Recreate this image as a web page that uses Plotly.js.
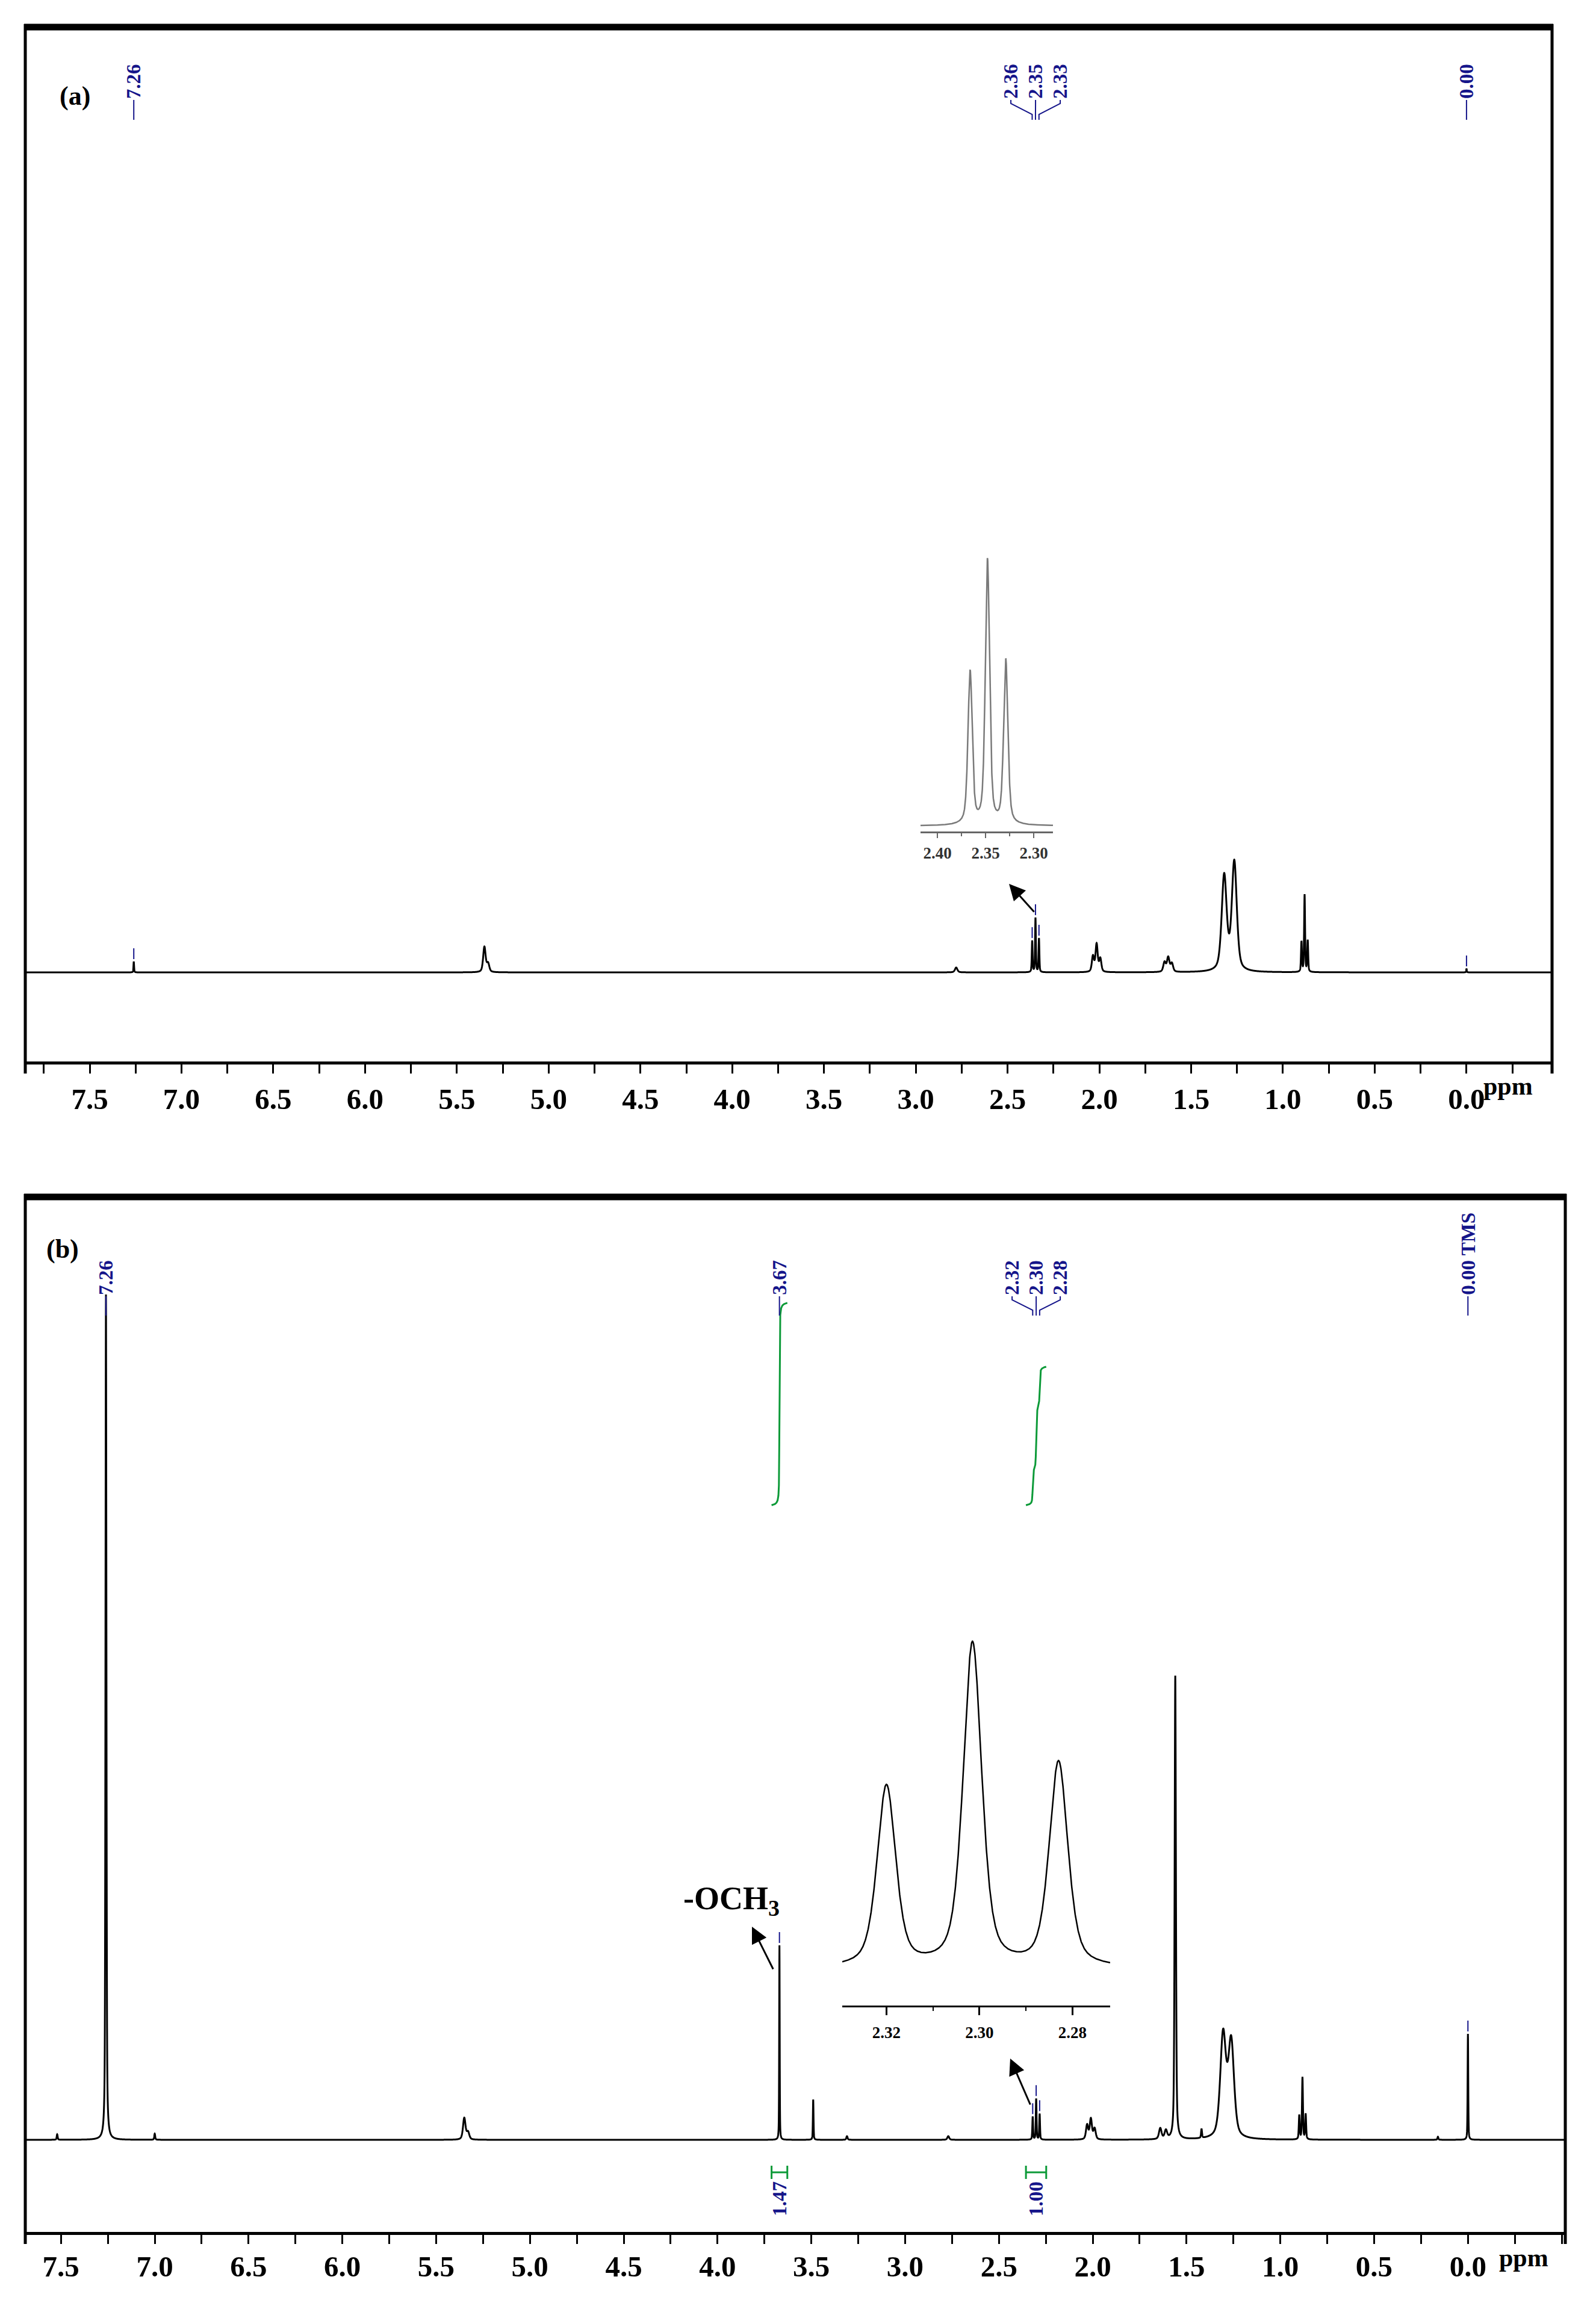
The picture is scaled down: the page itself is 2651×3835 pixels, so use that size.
<!DOCTYPE html>
<html><head><meta charset="utf-8">
<script src="https://cdn.plot.ly/plotly-3.0.1.min.js"></script>
<style>html,body{margin:0;padding:0;background:#fff}</style>
</head><body>
<div id="chart" style="width:2651px;height:3835px"></div>
<script>
// ================= DATA =================
// Spectrum (a): peak positions (ppm), heights (baseline units), half-widths (ppm)
const specA_ppm    = [7.26, 5.35, 5.33, 2.78, 2.366, 2.348, 2.329, 2.035, 2.015, 1.995, 1.645, 1.625, 1.605, 1.32,  1.265, 0.899, 0.882, 0.865, 0.00];
const specA_height = [18,   42,   14,   8,    52,    90,    56,    26,    46,    22,    16,    24,    14,    158,   181,   50,    128,   52,    6];
const specA_hwhm   = [0.002,0.008,0.008,0.008,0.0026,0.0026,0.0026,0.007, 0.007, 0.007, 0.008, 0.008, 0.008, 0.016, 0.016, 0.003, 0.003, 0.003, 0.002];

// Spectrum (b)
const specB_ppm    = [7.52, 7.26, 7.00, 5.35, 5.33, 3.67,  3.49,  3.31, 2.77, 2.320,  2.3015, 2.283,  2.03, 2.01, 1.99, 1.64, 1.61, 1.56,  1.42,  1.305, 1.262, 0.899, 0.882, 0.865, 0.16,  0.00];
const specB_height = [9,    1404, 10,   36,   12,   323,   67,    6,    6,    38,     68,     43,     24,   34,   18,   18,   14,   770,   15,    171,   159,   40,    103,   42,    5,     176];
const specB_hwhm   = [0.003,0.003,0.003,0.008,0.008,0.0016,0.002, 0.004,0.006,0.00236,0.00236,0.00236,0.007,0.007,0.007,0.008,0.008,0.004, 0.003, 0.018, 0.018, 0.003, 0.003, 0.003, 0.003, 0.002];

// Axis tick values (ppm)
const xTickVals = [7.5, 7.0, 6.5, 6.0, 5.5, 5.0, 4.5, 4.0, 3.5, 3.0, 2.5, 2.0, 1.5, 1.0, 0.5, 0.0];
const insetA_ticks = [2.40, 2.35, 2.30];
const insetB_ticks = [2.32, 2.30, 2.28];

// Picked-peak labels
const pickA_ppm  = [7.26, 2.366, 2.348, 2.329, 0.00];
const pickA_text = ["7.26", "2.36", "2.35", "2.33", "0.00"];
const pickB_ppm  = [7.26, 3.67, 2.320, 2.3015, 2.283, 0.00];
const pickB_text = ["7.26", "3.67", "2.32", "2.30", "2.28", "0.00 TMS"];

// Integrals (b)
const integ_hi    = [3.712, 2.356];
const integ_lo    = [3.628, 2.248];
const integ_label = ["1.47", "1.00"];

// Texts
const panelLabels = ["(a)", "(b)"];
const axisUnit = "ppm";
const groupLabel = "-OCH<sub>3</sub>";

// ================= HELPERS =================
const W = 2651, H = 3835;
const ETA = 0.5;
function shape1(x, p, h, g) { const d = (x - p) / g; return h * (ETA / (1 + d * d) + (1 - ETA) * Math.exp(-Math.LN2 * d * d)); }
function specVal(x, P, Hh, G) { let s = 0; for (let i = 0; i < P.length; i++) s += shape1(x, P[i], Hh[i], G[i]); return s; }
function grid(from, to, step, extra) {
  const n = Math.round((from - to) / step);
  const xs = [];
  for (let i = 0; i <= n; i++) xs.push(+(from - i * step).toFixed(6));
  extra.forEach(e => { if (e <= from && e >= to) xs.push(e); });
  xs.sort((a, b) => b - a);
  return xs;
}
const py = p => 1 - p / H;
const pxx = p => p / W;

// Panel geometry (pixels)
const PA = { x0: 42, x1: 2578, yTop: 45, yBot: 1763, base: 1615, r0: 7.851, r1: -0.466 };
const PB = { x0: 42, x1: 2600, yTop: 1988, yBot: 3707, base: 3554, r0: 7.690, r1: -0.519 };

const xsA = grid(7.9, -0.55, 0.0005, specA_ppm);
const ysA = xsA.map(x => specVal(x, specA_ppm, specA_height, specA_hwhm));
const xsB = grid(7.9, -0.55, 0.0005, specB_ppm);
const ysB = xsB.map(x => specVal(x, specB_ppm, specB_height, specB_hwhm));

// insets
const insA = { x0: 1529, x1: 1749, axis: 1381, base: 1372, top: 900, peakPx: 445, r0: 2.4175, r1: 2.28 };
const insB = { x0: 1399, x1: 1844, axis: 3331, base: 3270, top: 2700, peakPx: 544, r0: 2.3295, r1: 2.2719 };
const ixA = grid(insA.r0, insA.r1, 0.0001, specA_ppm);
const iyA = ixA.map(x => specVal(x, specA_ppm, specA_height, specA_hwhm));
const ixB = grid(insB.r0, insB.r1, 0.00005, specB_ppm);
const iyB = ixB.map(x => specVal(x, specB_ppm, specB_height, specB_hwhm));
const sA = insA.peakPx / Math.max(...iyA);
const sB = insB.peakPx / Math.max(...iyB);

// integrals
function cumInt(hi, lo) {
  const xs = grid(hi, lo, 0.0001, []);
  const X = [], C = [];
  let c = 0, prev = 0;
  for (let i = 0; i < xs.length; i++) {
    const v = specVal(xs[i], specB_ppm, specB_height, specB_hwhm);
    if (i > 0) c += (v + prev) / 2 * (xs[i - 1] - xs[i]);
    prev = v; X.push(xs[i]); C.push(c);
  }
  return { X, C };
}
const ints = integ_hi.map((h, i) => cumInt(h, integ_lo[i]));
const refInt = ints[1].C[ints[1].C.length - 1];
const intScale = 230 / refInt;
const intBase = PB.base - 2500; // units above baseline (1 unit = 1 px)

const BLUE = '#15158a', GREEN = '#0c9a38';
const serif = 'Liberation Serif, "Times New Roman", serif';

const traces = [
  { x: xsA, y: ysA, xaxis: 'x', yaxis: 'y', mode: 'lines', line: { color: '#000', width: 3, simplify: false }, hoverinfo: 'skip' },
  { x: xsB, y: ysB, xaxis: 'x2', yaxis: 'y2', mode: 'lines', line: { color: '#000', width: 3, simplify: false }, hoverinfo: 'skip' },
  { x: ixA, y: iyA, xaxis: 'x3', yaxis: 'y3', mode: 'lines', line: { color: '#7a7a7a', width: 2.5 }, hoverinfo: 'skip' },
  { x: ixB, y: iyB, xaxis: 'x4', yaxis: 'y4', mode: 'lines', line: { color: '#000', width: 2.5 }, hoverinfo: 'skip' }
];
ints.forEach(o => traces.push({ x: o.X, y: o.C.map(c => intBase + c * intScale), xaxis: 'x2', yaxis: 'y2', mode: 'lines', line: { color: GREEN, width: 3 }, hoverinfo: 'skip' }));

const shapes = [];
const annotations = [];
const fontLab = { family: serif, size: 33, color: BLUE, weight: 700 };

// frames
[PA, PB].forEach(P => {
  shapes.push({ type: 'line', xref: 'paper', yref: 'paper', x0: pxx(P.x0), x1: pxx(P.x0), y0: py(P.yTop - 5), y1: py(P.yBot + 20), line: { color: '#000', width: 5 } });
  shapes.push({ type: 'line', xref: 'paper', yref: 'paper', x0: pxx(P.x1), x1: pxx(P.x1), y0: py(P.yTop - 5), y1: py(P.yBot + 20), line: { color: '#000', width: 5 } });
  shapes.push({ type: 'line', xref: 'paper', yref: 'paper', x0: pxx(P.x0 - 2), x1: pxx(P.x1 + 2), y0: py(P.yTop), y1: py(P.yTop), line: { color: '#000', width: 11 } });
});

function picks(P, ppm, txt, xa, ya, P_, Hh, G, labelBottom, connTop, connBot, spacing) {
  const pxPer = (P.x1 - P.x0) / (P.r0 - P.r1);
  const groups = []; let cur = [0];
  for (let i = 1; i < ppm.length; i++) {
    if (Math.abs(ppm[i] - ppm[i - 1]) * pxPer < 30) cur.push(i); else { groups.push(cur); cur = [i]; }
  }
  groups.push(cur);
  groups.forEach(g => {
    const center = g.reduce((s, i) => s + ppm[i], 0) / g.length;
    g.forEach((i, k) => {
      const off = (k - (g.length - 1) / 2) * spacing;
      const lx = g.length === 1 ? ppm[i] : center - off / pxPer;
      annotations.push({ xref: xa, yref: 'paper', x: lx, y: py(labelBottom), text: txt[i], textangle: -90, showarrow: false, xanchor: 'center', yanchor: 'bottom', font: fontLab, borderpad: 0 });
      if (g.length === 1) {
        shapes.push({ type: 'line', xref: xa, yref: 'paper', x0: lx, x1: lx, y0: py(connTop), y1: py(connBot), line: { color: BLUE, width: 2 } });
      } else {
        shapes.push({ type: 'path', xref: xa, yref: 'paper', path: `M${lx},${py(connTop)} L${lx},${py(connTop + 6)} L${ppm[i]},${py(connBot - 9)} L${ppm[i]},${py(connBot)}`, line: { color: BLUE, width: 2 } });
      }
      const v = specVal(ppm[i], P_, Hh, G);
      if (P.base - (v + 26) > connBot + 4) {
        shapes.push({ type: 'line', xref: xa, yref: ya, x0: ppm[i], x1: ppm[i], y0: v + 4, y1: v + 22, line: { color: BLUE, width: 2 } });
      }
    });
  });
}
picks(PA, pickA_ppm, pickA_text, 'x', 'y', specA_ppm, specA_height, specA_hwhm, 165, 166, 199, 41);
picks(PB, pickB_ppm, pickB_text, 'x2', 'y2', specB_ppm, specB_height, specB_hwhm, 2152, 2153, 2185, 40);

// integral bars and values
integ_hi.forEach((hi, i) => {
  const lo = integ_lo[i];
  const yb = 3608;
  shapes.push({ type: 'line', xref: 'x2', yref: 'paper', x0: hi, x1: lo, y0: py(yb), y1: py(yb), line: { color: GREEN, width: 3 } });
  [hi, lo].forEach(e => shapes.push({ type: 'line', xref: 'x2', yref: 'paper', x0: e, x1: e, y0: py(yb - 11), y1: py(yb + 11), line: { color: GREEN, width: 3 } }));
  annotations.push({ xref: 'x2', yref: 'paper', x: (hi + lo) / 2, y: py(3622), text: integ_label[i], textangle: -90, showarrow: false, xanchor: 'center', yanchor: 'top', font: fontLab, borderpad: 0 });
});

// panel labels, unit labels, group label
const blackBold = s => ({ family: serif, size: s, color: '#000', weight: 700 });
annotations.push({ xref: 'paper', yref: 'paper', x: pxx(124), y: py(160), xanchor: 'center', yanchor: 'middle', text: panelLabels[0], showarrow: false, font: blackBold(44) });
annotations.push({ xref: 'paper', yref: 'paper', x: pxx(104), y: py(2074), xanchor: 'center', yanchor: 'middle', text: panelLabels[1], showarrow: false, font: blackBold(44) });
annotations.push({ xref: 'paper', yref: 'paper', x: pxx(2505), y: py(1804), xanchor: 'center', yanchor: 'middle', text: axisUnit, showarrow: false, font: blackBold(42) });
annotations.push({ xref: 'paper', yref: 'paper', x: pxx(2531), y: py(3750), xanchor: 'center', yanchor: 'middle', text: axisUnit, showarrow: false, font: blackBold(42) });
annotations.push({ xref: 'paper', yref: 'paper', x: pxx(1215), y: py(3156), xanchor: 'center', yanchor: 'middle', text: groupLabel, showarrow: false, font: blackBold(54) });

// arrows
[[1676, 1468, 43, 48], [1678, 3419, 34, 78], [1249, 3200, 36, 72]].forEach(a => {
  annotations.push({ xref: 'paper', yref: 'paper', x: pxx(a[0]), y: py(a[1]), ax: a[2], ay: a[3], text: '', showarrow: true, arrowhead: 2, arrowsize: 1.8, arrowwidth: 3, arrowcolor: '#000', standoff: 0, startstandoff: 0 });
});

const tickFont = { family: serif, size: 49, color: '#000', weight: 700 };
function mainX(P, anchor, standoff) {
  return {
    domain: [pxx(P.x0), pxx(P.x1)], range: [P.r0, P.r1], anchor: anchor,
    showline: true, linecolor: '#000', linewidth: 5, mirror: false,
    ticks: 'outside', ticklen: 15, tickwidth: 3, tickcolor: '#000',
    tickmode: 'array', tickvals: xTickVals, ticktext: xTickVals.map(v => v.toFixed(1)), tickfont: tickFont, ticklabelstandoff: standoff,
    minor: { tickmode: 'linear', tick0: 0, dtick: 0.25, ticks: 'outside', ticklen: 15, tickwidth: 3, tickcolor: '#000', showgrid: false },
    showgrid: false, zeroline: false, fixedrange: true
  };
}
function mainY(P) {
  return { domain: [py(P.yBot), py(P.yTop)], range: [-(P.yBot - P.base), P.base - P.yTop], visible: false, fixedrange: true };
}

const layout = {
  width: W, height: H, margin: { l: 0, r: 0, t: 0, b: 0 },
  paper_bgcolor: '#fff', plot_bgcolor: 'rgba(0,0,0,0)', showlegend: false, hovermode: false,
  xaxis: mainX(PA, 'y', 0), yaxis: mainY(PA),
  xaxis2: mainX(PB, 'y2', -5), yaxis2: mainY(PB),
  xaxis3: {
    domain: [pxx(insA.x0), pxx(insA.x1)], range: [insA.r0, insA.r1], anchor: 'y3',
    showline: true, linecolor: '#666', linewidth: 2.5, ticks: 'outside', ticklen: 8, tickwidth: 2, tickcolor: '#666',
    tickmode: 'array', tickvals: insetA_ticks, ticktext: insetA_ticks.map(v => v.toFixed(2)),
    tickfont: { family: serif, size: 27, color: '#333', weight: 700 }, ticklabelstandoff: 2,
    minor: { tickmode: 'linear', tick0: 2.30, dtick: 0.025, ticks: 'outside', ticklen: 5, tickwidth: 2, tickcolor: '#666' },
    showgrid: false, zeroline: false, fixedrange: true
  },
  yaxis3: { domain: [py(insA.axis), py(insA.top)], range: [-(insA.axis - insA.base) / sA, (insA.base - insA.top) / sA], visible: false, fixedrange: true },
  xaxis4: {
    domain: [pxx(insB.x0), pxx(insB.x1)], range: [insB.r0, insB.r1], anchor: 'y4',
    showline: true, linecolor: '#000', linewidth: 3, ticks: 'outside', ticklen: 13, tickwidth: 3, tickcolor: '#000',
    tickmode: 'array', tickvals: insetB_ticks, ticktext: insetB_ticks.map(v => v.toFixed(2)),
    tickfont: { family: serif, size: 27, color: '#000', weight: 700 }, ticklabelstandoff: 6,
    minor: { tickmode: 'linear', tick0: 2.28, dtick: 0.01, ticks: 'outside', ticklen: 6, tickwidth: 2, tickcolor: '#000' },
    showgrid: false, zeroline: false, fixedrange: true
  },
  yaxis4: { domain: [py(insB.axis), py(insB.top)], range: [-(insB.axis - insB.base) / sB, (insB.base - insB.top) / sB], visible: false, fixedrange: true },
  shapes: shapes, annotations: annotations
};

Plotly.newPlot('chart', traces, layout, { staticPlot: true, displayModeBar: false });
</script>
</body></html>
